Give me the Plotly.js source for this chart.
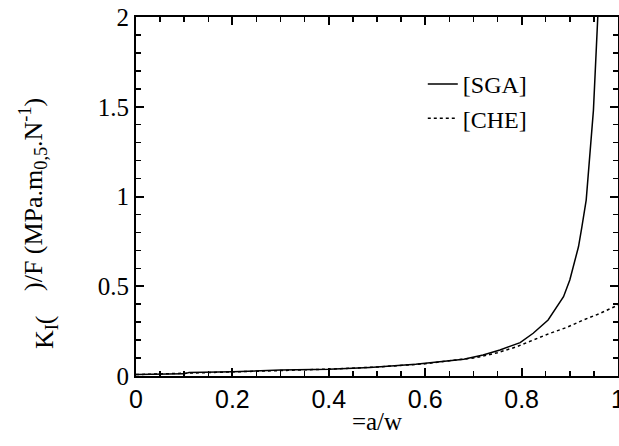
<!DOCTYPE html>
<html>
<head>
<meta charset="utf-8">
<script src="https://cdn.plot.ly/plotly-3.0.1.min.js"></script>
<style>html,body{margin:0;padding:0;background:#fff;}</style>
</head>
<body>
<div id="chart" style="width:619px;height:446px;"></div>
<script>
// a/w ratio and normalized stress intensity factor K_I/F
const awSGA = [0, 0.05, 0.10, 0.11, 0.20, 0.30, 0.40, 0.485, 0.58, 0.65, 0.68, 0.72, 0.755, 0.797, 0.824, 0.855, 0.887, 0.90, 0.918, 0.925, 0.934, 0.949, 0.959, 0.965];
const kSGA  = [0.008, 0.010, 0.012, 0.020, 0.024, 0.033, 0.037, 0.048, 0.065, 0.085, 0.093, 0.117, 0.145, 0.186, 0.238, 0.312, 0.442, 0.535, 0.72, 0.83, 0.98, 1.48, 2.0, 2.4];
const awCHE = [0, 0.10, 0.20, 0.30, 0.40, 0.50, 0.60, 0.65, 0.70, 0.72, 0.75, 0.79, 0.824, 0.859, 0.894, 0.928, 0.963, 1.0];
const kCHE  = [0.008, 0.015, 0.022, 0.030, 0.038, 0.050, 0.068, 0.085, 0.100, 0.111, 0.130, 0.163, 0.200, 0.238, 0.271, 0.312, 0.349, 0.395];
const seriesNames = ['[SGA]', '[CHE]'];
const xTitle = '=a/w';
const yTitlePart1 = 'K<sub>I</sub>(';
const yTitlePart2 = ')/F (MPa.m<sub>0,5</sub>.N<sup>-1</sup>)';

const serif = "'Liberation Serif', 'Times New Roman', Times, serif";
const sans = "'Liberation Sans', Arial, sans-serif";

const traces = [
  {x: awSGA, y: kSGA, name: seriesNames[0], type: 'scatter', mode: 'lines',
   line: {color: '#000', width: 1.5}},
  {x: awCHE, y: kCHE, name: seriesNames[1], type: 'scatter', mode: 'lines',
   line: {color: '#000', width: 1.5, dash: 'dot'}}
];

function axisBase(minorStep) {
  return {
    showline: true, linecolor: '#000', linewidth: 2, mirror: 'ticks',
    ticks: 'inside', ticklen: 8, tickwidth: 2, tickcolor: '#000',
    showgrid: false, zeroline: false, automargin: false,
    minor: {ticks: 'inside', ticklen: 5, tickwidth: 1.5, tickcolor: '#000', showgrid: false,
            dtick: minorStep}
  };
}

const layout = {
  width: 619, height: 446, autosize: false,
  margin: {l: 136, r: 1, t: 17, b: 70},
  paper_bgcolor: '#fff', plot_bgcolor: '#fff',
  font: {family: serif, color: '#000'},
  showlegend: true,
  legend: {x: 0.595, y: 0.875, xanchor: 'left', yanchor: 'top', bgcolor: 'rgba(0,0,0,0)',
           font: {family: serif, size: 24, color: '#000'}, tracegroupgap: 0},
  xaxis: Object.assign(axisBase(0.05), {
    range: [0, 1], dtick: 0.2, tick0: 0,
    tickfont: {family: sans, size: 25, color: '#000'},
    ticklabeloverflow: 'allow',
    title: {text: xTitle, font: {family: serif, size: 25, color: '#000'}, standoff: 0}
  }),
  yaxis: Object.assign(axisBase(0.1), {
    range: [0, 2], dtick: 0.5, tick0: 0,
    tickfont: {family: serif, size: 25, color: '#000'},
    ticklabeloverflow: 'allow'
  }),
  annotations: [
    {text: yTitlePart1, textangle: -90, xref: 'paper', yref: 'paper',
     x: (46 - 136) / 482, y: (376 - 332) / 359, xanchor: 'center', yanchor: 'middle',
     showarrow: false, font: {family: serif, size: 26, color: '#000'}},
    {text: yTitlePart2, textangle: -90, xref: 'paper', yref: 'paper',
     x: (33 - 136) / 482, y: (376 - 195) / 359, xanchor: 'center', yanchor: 'middle',
     showarrow: false, font: {family: serif, size: 26, color: '#000'}}
  ]
};

Plotly.newPlot('chart', traces, layout, {staticPlot: true, displayModeBar: false});
</script>
</body>
</html>
